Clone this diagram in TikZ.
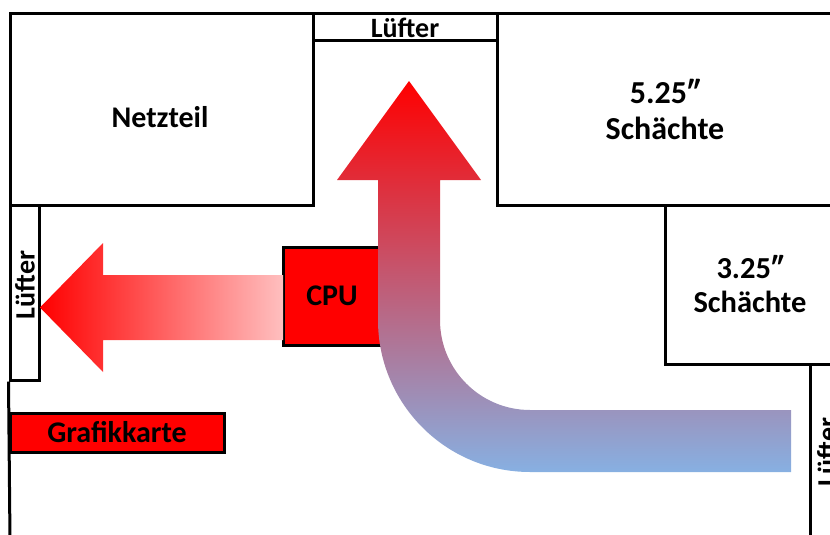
\documentclass[tikz,border=0pt]{standalone}
\usepackage{fontspec}
\setmainfont{Carlito}
\usepackage{xcolor}
\usetikzlibrary{positioning}
\definecolor{hotred}{RGB}{255,0,0}
\definecolor{airblue}{RGB}{135,176,226}

\begin{document}
\begin{tikzpicture}[x=1pt, y=-1pt,
    wall/.style={line width=3pt, black},
    part/.style={draw, line width=3pt, inner sep=0pt, font=\fontsize{30}{36}\selectfont\bfseries, align=center},
    chip/.style={part, fill=hotred},
    tag/.style={inner sep=0pt, font=\fontsize{28}{32}\selectfont\bfseries}]
  \useasboundingbox (0,0) rectangle (830,535);
  % Gehaeuse und Einbauten
  \node[part, minimum width=303pt, minimum height=191pt] (netzteil) at (161.5,109.5) {};
  \node[inner sep=0pt, font=\fontsize{30}{36}\selectfont\bfseries] (txtnetzteil) at (160,117) {Netzteil};
  \node[part, minimum width=184pt, minimum height=27pt, font=\fontsize{28}{32}\selectfont\bfseries] (luefteroben) at (405,27.5) {Lüfter};
  \node[part, minimum width=336pt, minimum height=191pt, font=\fontsize{32}{36}\selectfont\bfseries] (schacht525) at (665,109.5) {5.25″\\Schächte};
  \node[part, minimum width=170pt, minimum height=159pt, font=\fontsize{30.5}{34}\selectfont\bfseries] (schacht325) at (750,284.5) {3.25″\\Schächte};
  \node[part, minimum width=29pt, minimum height=175pt] (luefterlinks) at (24.5,292.5) {};
  \node[tag, rotate=90] (txtlinks) at (25,285) {Lüfter};
  \node[part, minimum width=32pt, minimum height=196pt] (luefterrechts) at (826,462) {};
  \node[tag, rotate=90] (txtrechts) at (827,452) {Lüfter};
  \coordinate (boden) at (10,540);
  \draw[wall] (luefterlinks.south west) -- (boden);
  \node[chip, minimum width=214pt, minimum height=39pt] (grafik) at (117,432.5) {Grafikkarte};
  \node[chip, minimum width=98pt, minimum height=98pt] (cpu) at (332,296) {CPU};
  % Luftstroeme
  \shade[left color=hotred, right color=hotred!25]
    (40,307.5) -- (103,243) -- (103,275) -- (283,275) -- (283,340) -- (103,340) -- (103,372) -- cycle;
  \shade[top color=hotred, bottom color=airblue]
    (409,81) -- (481,180) -- (440,180) -- (440,320)
    .. controls (440,369.7) and (480.3,410) .. (530,410)
    -- (791,410) -- (791,472) -- (530,472)
    .. controls (446,472) and (378,404) .. (378,320)
    -- (378,180) -- (337,180) -- cycle;
\end{tikzpicture}
\end{document}
